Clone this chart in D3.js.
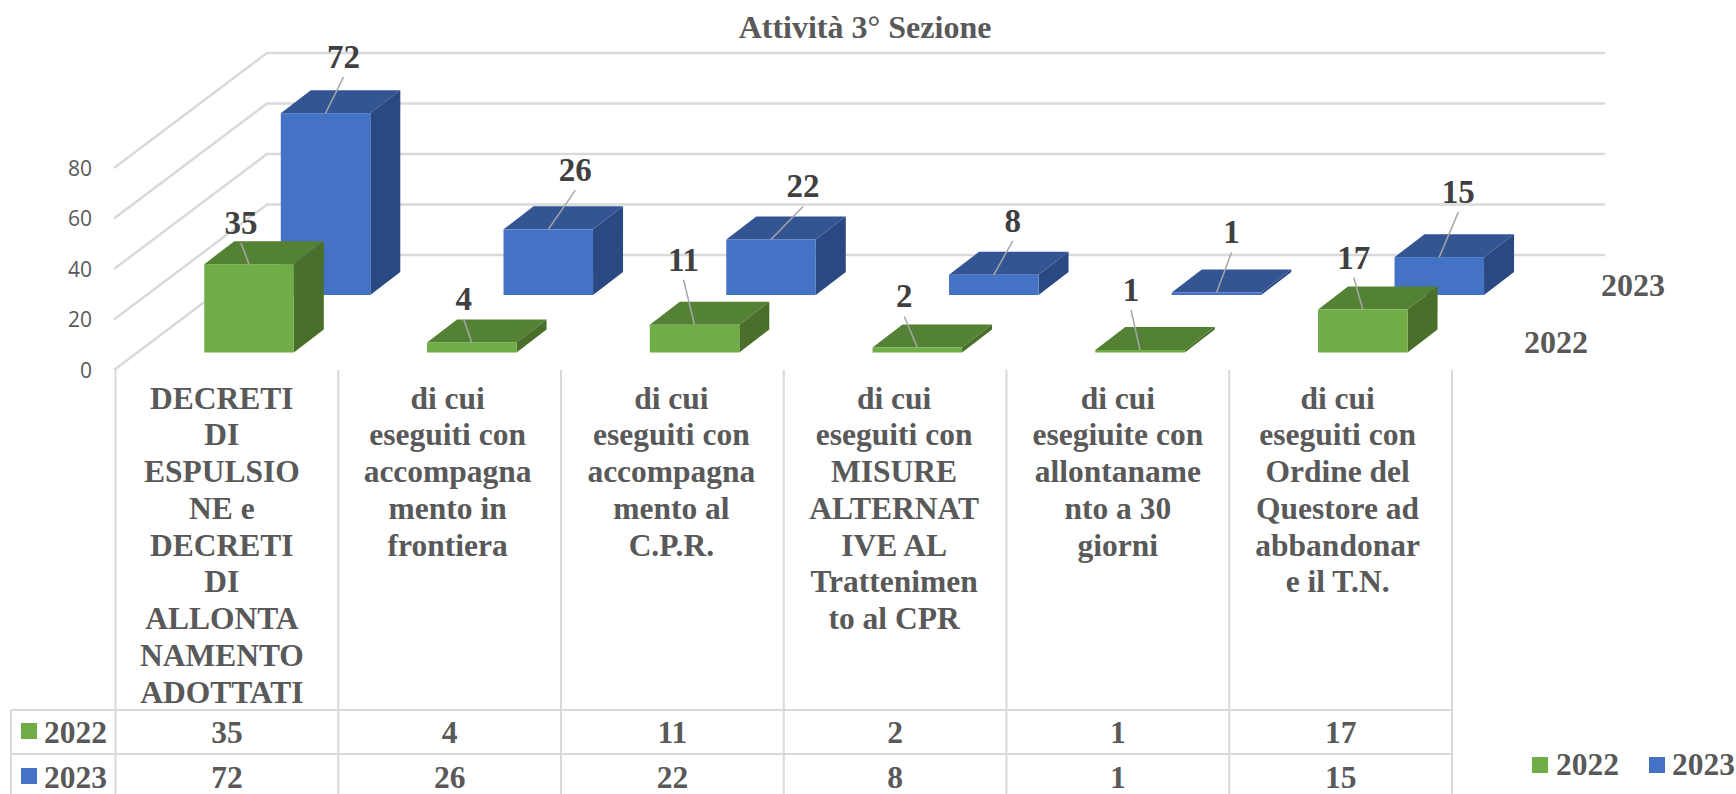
<!DOCTYPE html>
<html><head><meta charset="utf-8">
<script src="https://cdn.jsdelivr.net/npm/d3@7/dist/d3.min.js"></script>
<style>html,body{margin:0;padding:0;background:#fff}svg{display:block}text{font-family:"Liberation Serif",serif;font-weight:700}</style>
</head><body><script>
// ---- data ----
const chartTitle = "Attività 3° Sezione";
const categories = [
  ["DECRETI","DI","ESPULSIO","NE e","DECRETI","DI","ALLONTA","NAMENTO","ADOTTATI"],
  ["di cui","eseguiti con","accompagna","mento in","frontiera"],
  ["di cui","eseguiti con","accompagna","mento al","C.P.R."],
  ["di cui","eseguiti con","MISURE","ALTERNAT","IVE AL","Trattenimen","to al CPR"],
  ["di cui","esegiuite con","allontaname","nto a 30","giorni"],
  ["di cui","eseguiti con","Ordine del","Questore ad","abbandonar","e il T.N."]
];
const seriesNames = ["2022","2023"];
const values2022 = [35,4,11,2,1,17];
const values2023 = [72,26,22,8,1,15];
const yTicks = [0,20,40,60,80];

// ---- layout & style ----
const W=1736,H=794;
const leader2022=[[-8,-21],[-8,-23],[-11,-45],[-13,-31],[-9,-40],[-9,-32]];
const leader2023=[[18,-36],[27,-39],[32,-33],[19,-34],[15,-40],[19,-45]];
const catLabelShift=[-5,-2,-1,-1,0,-3];
const series=[
 {name:seriesNames[1],values:values2023,leader:leader2023,row:1,front:"#4472C4",top:"#335593",side:"#2A4881"},
 {name:seriesNames[0],values:values2022,leader:leader2022,row:0,front:"#70AD47",top:"#548235",side:"#4A6F2A"}
];
const GRID="#D9D9D9",TXT="#595959",LBL="#404040";
const floorY=370,wallDX=153,wallDY=115,wallRight=1605;
const barW=89.5,depthDX=30,depthDY=23;

const svg=d3.select("body").append("svg").attr("width",W).attr("height",H).attr("viewBox",[0,0,W,H]);
const y=d3.scaleLinear().domain([0,80]).range([floorY,168]);
const x=d3.scaleBand().domain(d3.range(categories.length)).range([115.5,1452]);
const rowShift=d3.scaleLinear().domain([0,1]).range([17.5,75]); // distance of each series row behind the front edge
const rowX=r=>rowShift(r)*wallDX/wallDY;

// title
svg.append("text").attr("x",865).attr("y",27).attr("text-anchor","middle").attr("dominant-baseline","central")
  .attr("font-size",32).attr("fill",TXT).text(chartTitle);

// walls
const line=d3.line();
svg.append("g").selectAll("path").data(yTicks).join("path")
  .attr("d",t=>line([[114,y(t)],[114+wallDX,y(t)-wallDY],[wallRight,y(t)-wallDY]]))
  .attr("fill","none").attr("stroke",GRID).attr("stroke-width",2.5);

// y axis
const axis=svg.append("g").attr("transform","translate(92,0)")
  .call(d3.axisLeft(y).tickValues(yTicks).tickSize(0).tickPadding(0));
axis.select(".domain").remove();
axis.selectAll("text").style("font-family","'Open Sans',sans-serif").style("font-weight",400)
  .attr("font-size",21).attr("fill",TXT).attr("x",0).attr("y",0).attr("dy","0.35em");

// table grid
const edges=[...x.domain().map(i=>x(i)),x.range()[1]];
const tg=svg.append("g").attr("stroke",GRID).attr("stroke-width",2);
tg.selectAll("line.v").data(edges).join("line").attr("class","v")
  .attr("x1",d=>d).attr("x2",d=>d).attr("y1",floorY).attr("y2",H);
tg.selectAll("line.h").data([710,754]).join("line").attr("class","h")
  .attr("x1",11).attr("x2",x.range()[1]).attr("y1",d=>d).attr("y2",d=>d);
tg.append("line").attr("x1",11).attr("x2",11).attr("y1",710).attr("y2",H);

// bars
series.forEach(s=>{
  const g=svg.append("g");
  const X0=i=>x(i)+65.5+rowX(s.row);
  const base=floorY-rowShift(s.row);
  const h=v=>floorY-y(v);
  const bars=g.selectAll("g").data(s.values).join("g");
  bars.append("path").attr("fill",s.top).attr("d",(v,i)=>{const a=X0(i),t=base-h(v);
    return line([[a,t],[a+barW,t],[a+barW+depthDX,t-depthDY],[a+depthDX,t-depthDY]])+"Z";});
  bars.append("path").attr("fill",s.side).attr("d",(v,i)=>{const a=X0(i)+barW,t=base-h(v);
    return line([[a,t],[a+depthDX,t-depthDY],[a+depthDX,base-depthDY],[a,base]])+"Z";});
  bars.append("rect").attr("fill",s.front).attr("x",(v,i)=>X0(i)).attr("y",v=>base-h(v))
    .attr("width",barW).attr("height",v=>h(v));
  s.anchor=(v,i)=>[X0(i)+barW/2,base-h(v)];
});

// leaders + labels
series.forEach(s=>{
  const g=svg.append("g");
  s.values.forEach((v,i)=>{
    const [ax,ay]=s.anchor(v,i),[dx,dy]=s.leader[i];
    g.append("line").attr("x1",ax).attr("y1",ay).attr("x2",ax+dx).attr("y2",ay+dy)
      .attr("stroke","#A6A6A6").attr("stroke-width",1.5);
    g.append("text").attr("x",ax+dx).attr("y",ay+dy-20).attr("text-anchor","middle")
      .attr("dominant-baseline","central").attr("font-size",33).attr("fill",LBL).text(v);
  });
});

// depth axis labels
svg.append("text").attr("x",1556).attr("y",342).attr("text-anchor","middle").attr("dominant-baseline","central")
  .attr("font-size",32).attr("fill",TXT).text(seriesNames[0]);
svg.append("text").attr("x",1633).attr("y",285).attr("text-anchor","middle").attr("dominant-baseline","central")
  .attr("font-size",32).attr("fill",TXT).text(seriesNames[1]);

// category labels
const cg=svg.append("g").attr("font-size",31.5).attr("fill",TXT).attr("text-anchor","middle");
categories.forEach((lines,i)=>{
  cg.selectAll(null).data(lines).join("text")
    .attr("x",x(i)+x.bandwidth()/2+catLabelShift[i]).attr("y",(d,k)=>398+k*36.75)
    .attr("dominant-baseline","central").text(d=>d);
});

// data table
const rows=[{y:732,s:series[1]},{y:777,s:series[0]}];
rows.forEach((r,ri)=>{
  const tbl=ri===0?series[1]:series[0];
  svg.append("rect").attr("x",21).attr("y",r.y-9).attr("width",16).attr("height",16).attr("fill",seriesFront(ri));
  svg.append("text").attr("x",44).attr("y",r.y).attr("dominant-baseline","central")
    .attr("font-size",31.5).attr("fill",TXT).text(seriesNames[ri]);
  svg.append("g").selectAll("text").data(ri===0?values2022:values2023).join("text")
    .attr("x",(v,i)=>x(i)+x.bandwidth()/2).attr("y",r.y).attr("text-anchor","middle")
    .attr("dominant-baseline","central").attr("font-size",31.5).attr("fill",TXT).text(v=>v);
});
function seriesFront(ri){return series.find(s=>s.row===ri).front;}

// legend
[{kx:1532,tx:1556,ri:0},{kx:1649,tx:1672,ri:1}].forEach(l=>{
  svg.append("rect").attr("x",l.kx).attr("y",757).attr("width",16).attr("height",16).attr("fill",seriesFront(l.ri));
  svg.append("text").attr("x",l.tx).attr("y",764).attr("dominant-baseline","central")
    .attr("font-size",31.5).attr("fill",TXT).text(seriesNames[l.ri]);
});
</script></body></html>
